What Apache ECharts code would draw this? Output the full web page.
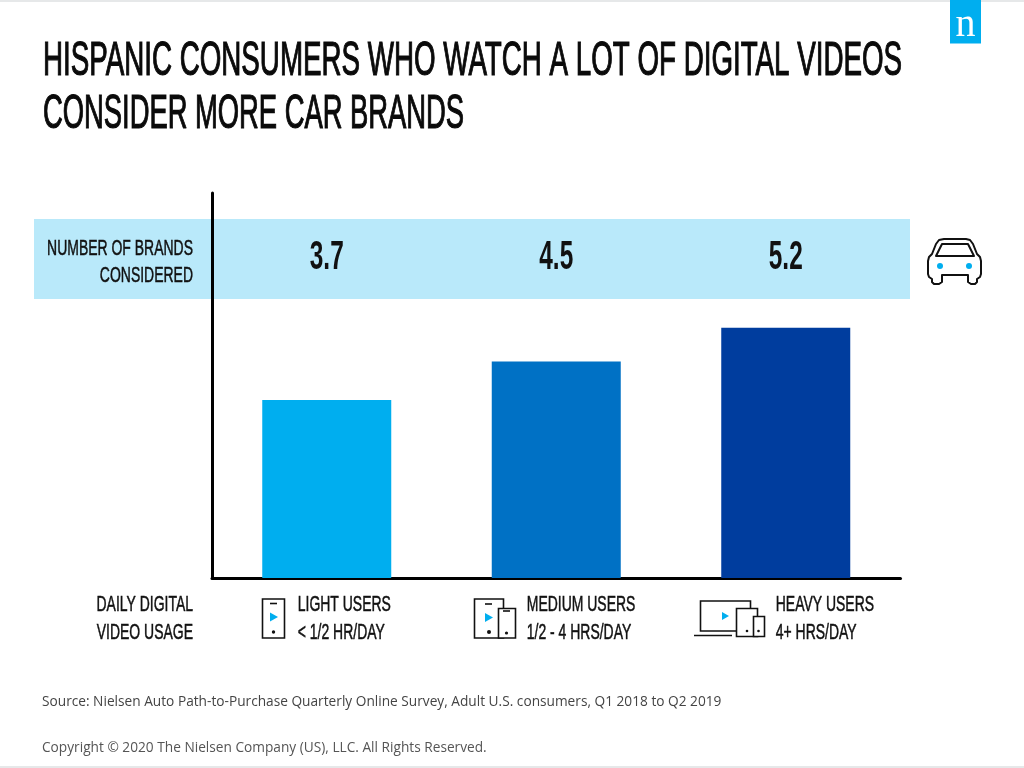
<!DOCTYPE html>
<html><head><meta charset="utf-8">
<style>html,body{margin:0;padding:0;background:#fff}#c{width:1024px;height:768px}</style>
<script src="https://cdn.jsdelivr.net/npm/echarts@6/dist/echarts.min.js"></script></head>
<body><div id="c"></div>
<script>
const categories = ['LIGHT USERS', 'MEDIUM USERS', 'HEAVY USERS'];
const usage = ['< 1/2 HR/DAY', '1/2 - 4 HRS/DAY', '4+ HRS/DAY'];
const brands = [3.7, 4.5, 5.2];
const barColors = ['#00AEEF', '#0071C5', '#003D9E'];
const titleLines = ['HISPANIC CONSUMERS WHO WATCH A LOT OF DIGITAL VIDEOS', 'CONSIDER MORE CAR BRANDS'];
const rowLabel = ['NUMBER OF BRANDS', 'CONSIDERED'];
const usageLabel = ['DAILY DIGITAL', 'VIDEO USAGE'];
const sourceText = 'Source: Nielsen Auto Path-to-Purchase Quarterly Online Survey, Adult U.S. consumers, Q1 2018 to Q2 2019';
const copyrightText = 'Copyright © 2020 The Nielsen Company (US), LLC. All Rights Reserved.';

const SANS = '"Liberation Sans",sans-serif';
const INK = '#111111', BLUE = '#00AEEF';
const LABEL_FONT = '22px ' + SANS, LABEL_SCALE = 0.635, LABEL_STROKE = 0.5;
const stroke = {stroke: INK, lineWidth: 1.6, fill: '#fff'};
const rect = (x, y, w, h, style, z) => ({type: 'rect', z: z || 5, shape: {x, y, width: w, height: h}, style: style || stroke});
const tri = (x, y, w, h) => ({type: 'polygon', z: 6, shape: {points: [[x, y - h / 2], [x + w, y], [x, y + h / 2]]}, style: {fill: BLUE}});
const dot = (x, y, r, f) => ({type: 'circle', z: 6, shape: {cx: x, cy: y, r}, style: {fill: f || INK}});
const seg = (x1, y1, x2, y2, lw) => ({type: 'line', z: 6, shape: {x1, y1, x2, y2}, style: {stroke: INK, lineWidth: lw || 1.6}});
const txt = (t, x, y, font, fill, align, sx, sw) => ({type: 'text', z: 7, x, y, scaleX: sx || 1, style: {text: t, x: 0, y: 0, font, fill: fill || INK, textAlign: align || 'left', textVerticalAlign: 'middle', stroke: sw ? (fill || INK) : null, lineWidth: sw || 0}});

const carBody = [[944,239],[966,239],[970,240],[973,244],[977,254],[980,257],[981,261],[981,274],[980,277],[977,279],[977,282],[975,284],[971,284],[968,282],[968,275],[942,275],[942,282],[939,284],[934,284],[932,282],[932,279],[929,277],[928,274],[928,261],[929,257],[932,254],[936,244],[939,240]];
const carGlass = [[942,244],[968,244],[974,256],[936,256]];

const graphics = [
  rect(0, 0, 1024, 2, {fill: '#E6E8E9'}, 1),
  rect(0, 766, 1024, 2, {fill: '#E6E8E9'}, 1),
  rect(34, 219, 876, 80, {fill: '#B9E9FA'}, -1),
  rect(950, 0, 31, 43.5, {fill: BLUE}, 1),
  txt('n', 965.5, 25, '40px "Liberation Serif",serif', '#fff', 'center'),
  txt(titleLines[0], 43, 62, '48px ' + SANS, '#0a0a0a', 'left', 0.578, 1.2),
  txt(titleLines[1], 43, 114.5, '48px ' + SANS, '#0a0a0a', 'left', 0.57, 1.2),
  txt(rowLabel[0], 193, 249, LABEL_FONT, INK, 'right', LABEL_SCALE, LABEL_STROKE),
  txt(rowLabel[1], 193, 276, LABEL_FONT, INK, 'right', LABEL_SCALE, LABEL_STROKE),
  txt(usageLabel[0], 193, 605, LABEL_FONT, INK, 'right', LABEL_SCALE, LABEL_STROKE),
  txt(usageLabel[1], 193, 633, LABEL_FONT, INK, 'right', LABEL_SCALE, LABEL_STROKE),
  txt(sourceText, 42, 702, '13.7px "Open Sans",sans-serif', '#444'),
  txt(copyrightText, 42, 748, '13.7px "Open Sans",sans-serif', '#555'),
  {type: 'polygon', z: 5, shape: {points: carBody}, style: {stroke: INK, lineWidth: 2, fill: '#fff', lineJoin: 'round'}},
  {type: 'polygon', z: 6, shape: {points: carGlass}, style: {stroke: INK, lineWidth: 2, fill: '#fff', lineJoin: 'round'}},
  dot(940, 266, 3, BLUE), dot(969, 266, 3, BLUE),
  rect(262.5, 599, 22, 39), seg(270, 603.5, 277, 603.5), dot(273.5, 632, 1.7), tri(270, 617, 8, 9),
  rect(474.5, 599, 29, 39), seg(485, 604, 492, 604), dot(489, 632, 2), tri(485, 617.5, 8, 9),
  rect(498.5, 608.5, 17, 29.5), seg(503, 611, 510, 611), dot(506.5, 633, 1.6),
  rect(700.5, 601, 50, 30), seg(694, 635.5, 732, 635.5), tri(722, 616, 7, 8),
  rect(736.5, 608.5, 21, 28), dot(747, 631, 1.3),
  rect(753.5, 616.5, 11, 20), dot(758.5, 631, 1.3)
];

const labelOffset = [-29, -29.5, -10];

const chart = echarts.init(document.getElementById('c'));
chart.setOption({
  animation: false,
  backgroundColor: '#fff',
  grid: {left: 212, top: 193, width: 688.5, height: 385},
  xAxis: {type: 'category', data: categories, axisLine: {lineStyle: {color: '#000', width: 3}}, axisTick: {show: false}, axisLabel: {show: false}},
  yAxis: {type: 'value', min: 0, max: 8, interval: 2, axisLine: {show: true, lineStyle: {color: '#000', width: 3}}, axisTick: {show: false}, axisLabel: {show: false}, splitLine: {show: false}},
  series: [{
    type: 'bar', barWidth: 129,
    data: brands.map((v, i) => ({value: v, itemStyle: {color: barColors[i]}}))
  }, {
    type: 'custom', silent: true, z: 10,
    data: brands.map((v, i) => [i, v]),
    encode: {x: 0, y: 1},
    renderItem: (params, api) => {
      const i = api.value(0);
      const cx = api.coord([i, 0])[0];
      const t = (text, x, y, font, align, sx, sw) => ({type: 'text', x, y, scaleX: sx, style: {text, x: 0, y: 0, font, fill: INK, stroke: sw ? INK : null, lineWidth: sw || 0, textAlign: align, textVerticalAlign: 'middle'}});
      return {type: 'group', children: [
        t(api.value(1).toFixed(1), cx, 258, 'bold 40px ' + SANS, 'center', 0.61, 0),
        t(categories[i], cx + labelOffset[i], 605, LABEL_FONT, 'left', LABEL_SCALE, LABEL_STROKE),
        t(usage[i], cx + labelOffset[i], 633, LABEL_FONT, 'left', LABEL_SCALE, LABEL_STROKE)
      ]};
    }
  }],
  graphic: graphics
});
</script></body></html>
